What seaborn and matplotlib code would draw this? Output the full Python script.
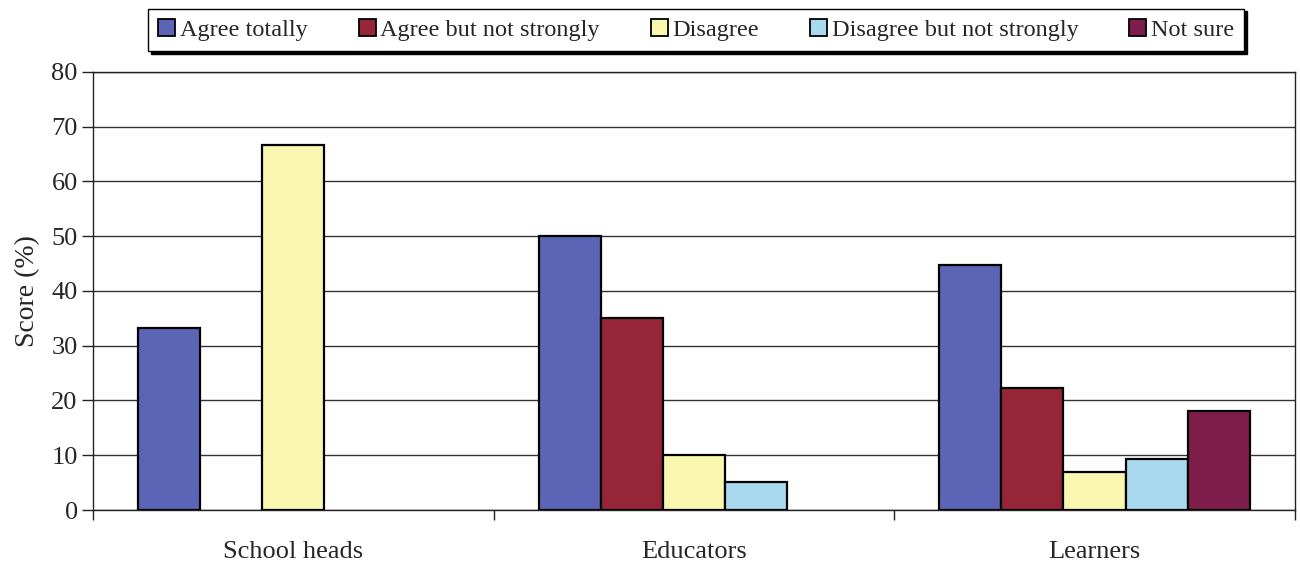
import matplotlib
matplotlib.use("Agg")
import matplotlib.pyplot as plt
import seaborn as sns
import pandas as pd

groups = ["School heads", "Educators", "Learners"]
responses = ["Agree totally", "Agree but not strongly", "Disagree",
             "Disagree but not strongly", "Not sure"]
agree_totally = [33.3, 50.0, 44.7]
agree_not_strongly = [0.0, 35.0, 22.3]
disagree = [66.7, 10.0, 6.9]
disagree_not_strongly = [0.0, 5.2, 9.3]
not_sure = [0.0, 0.0, 18.1]
colors = ["#5C65B5", "#962538", "#FAF8B0", "#A9D9EE", "#7E1D4A"]
y_ticks = [0, 10, 20, 30, 40, 50, 60, 70, 80]

series = [agree_totally, agree_not_strongly, disagree, disagree_not_strongly, not_sure]
rows = []
for resp, vals in zip(responses, series):
    for g, v in zip(groups, vals):
        rows.append({"group": g, "response": resp, "score": v})
df = pd.DataFrame(rows)

sns.set_theme(style="white")
plt.rcParams["font.family"] = ["Liberation Serif", "DejaVu Serif"]

fig = plt.figure(figsize=(13, 5.62), dpi=100)
ax = fig.add_axes([0.0715, 0.0925, 0.9245, 0.7795])

sns.barplot(data=df, x="group", y="score", hue="response", order=groups,
            hue_order=responses, palette=colors, width=0.775, gap=0,
            edgecolor="black", linewidth=1.6, saturation=1, errorbar=None,
            ax=ax, zorder=3)

handles, labels = ax.get_legend_handles_labels()
ax.get_legend().remove()

# empty categories get no outline
for p in ax.patches:
    if p.get_height() == 0:
        p.set_linewidth(0)

ax.set_ylim(0, 80)
ax.set_xlim(-0.5, 2.5)
ax.set_yticks(y_ticks)
ax.yaxis.grid(True, color="#333333", linewidth=1.0, zorder=0)
ax.set_axisbelow(True)
for s in ax.spines.values():
    s.set_color("#222222")
    s.set_linewidth(1.0)

ax.set_xlabel("")
ax.set_ylabel("Score (%)", fontsize=20, labelpad=8)
ax.tick_params(axis="y", which="major", direction="out", length=8, width=1,
               color="#222222", labelsize=19, pad=3, left=True)
ax.set_xticks([-0.5, 0.5, 1.5, 2.5], minor=True)
ax.tick_params(axis="x", which="minor", direction="out", length=7, width=1,
               color="#222222", bottom=True)
ax.tick_params(axis="x", which="major", length=0, labelsize=19, pad=22)

leg = fig.legend(handles, labels, loc="lower left", ncol=5,
                 bbox_to_anchor=(0.114, 0.909, 0.843, 0.075), mode="expand",
                 fontsize=17.5, frameon=True, fancybox=False,
                 shadow={"color": "black", "alpha": 1.0},
                 handlelength=0.7, handleheight=0.7, handletextpad=0.2,
                 borderpad=0.42, borderaxespad=0, columnspacing=1.0)
leg.get_frame().set_edgecolor("black")
leg.get_frame().set_linewidth(1.0)
for h in leg.legend_handles:
    h.set_edgecolor("black")
    h.set_linewidth(1.3)

fig.savefig("out.png", dpi=100, facecolor="white")
